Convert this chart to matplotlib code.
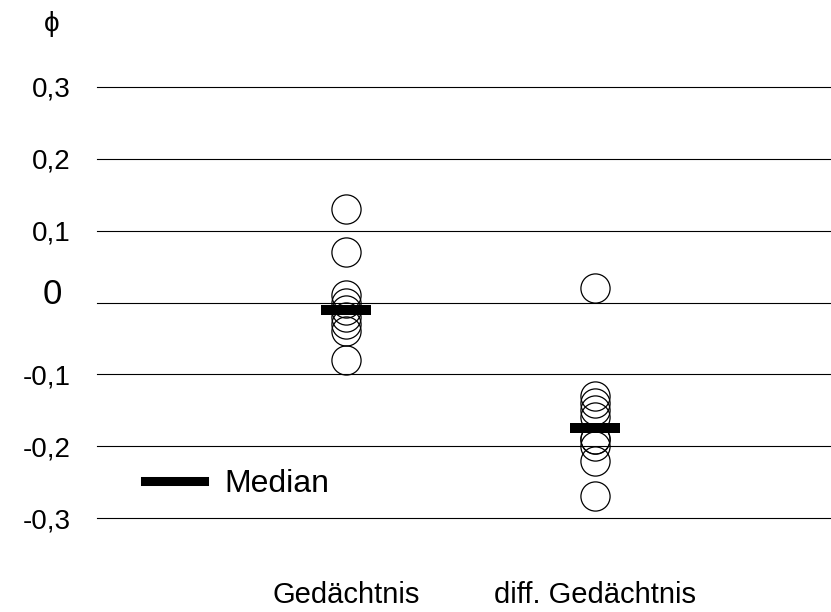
import numpy as np
import matplotlib
matplotlib.use("Agg")
import matplotlib.pyplot as plt
from matplotlib.lines import Line2D

plt.rcParams['font.family'] = ['Liberation Sans', 'DejaVu Sans']

# phi coefficients per condition
categories = ['Gedächtnis', 'diff. Gedächtnis']
phi_gedaechtnis = [0.13, 0.07, 0.01, 0.00, -0.01, -0.02, -0.03, -0.04, -0.08]
phi_diff = [0.02, -0.13, -0.14, -0.15, -0.16, -0.19, -0.19, -0.20, -0.22, -0.27]
groups = [phi_gedaechtnis, phi_diff]

ytick_values = [0.3, 0.2, 0.1, 0.0, -0.1, -0.2, -0.3]
ytick_labels = ['0,3', '0,2', '0,1', '0', '-0,1', '-0,2', '-0,3']

W, H = 831, 612
fig = plt.figure(figsize=(W / 100, H / 100), dpi=100)
ax = fig.add_axes([97 / W, 1 - 518 / H, 1 - 97 / W, (518 - 87) / H])
ax.set_xlim(0, 2.95)
ax.set_ylim(-0.3, 0.3)
for s in ax.spines.values():
    s.set_visible(False)
ax.set_xticks([])
ax.set_yticks([])

# horizontal reference lines
for v in ytick_values:
    ax.axhline(v, color='black', lw=0.8, clip_on=False, zorder=1)

# y labels drawn as text so the zero label can be larger
for v, lab in zip(ytick_values, ytick_labels):
    if lab == '0':
        ax.text(-0.048, v + 0.016, lab, transform=ax.get_yaxis_transform(),
                ha='right', va='center_baseline', fontsize=25)
    else:
        ax.text(-0.036, v, lab, transform=ax.get_yaxis_transform(),
                ha='right', va='center_baseline', fontsize=20)

# individual values and medians
for i, vals in enumerate(groups, start=1):
    ax.plot(np.full(len(vals), i), vals, 'o', ms=21, mfc='none',
            mec='black', mew=0.9, zorder=3, clip_on=False)
    med = np.median(vals)
    ax.hlines(med, i - 0.1, i + 0.1, colors='black', lw=7.2, zorder=4)

# category labels underneath
for i, cat in enumerate(categories, start=1):
    ax.text(i, -0.197, cat, transform=ax.get_xaxis_transform(),
            ha='center', va='baseline', fontsize=21)

fig.text(52 / W, 1 - 24 / H, 'ϕ', ha='center', va='center', fontsize=20)

handle = Line2D([], [], color='black', lw=6.5)
ax.legend([handle], ['Median'], loc='center left',
          bbox_to_anchor=(145 / W, 1 - 484 / H), bbox_transform=fig.transFigure,
          frameon=False, fontsize=23, handlelength=1.85, handletextpad=0.65,
          borderpad=0, borderaxespad=0)

fig.savefig('out.png', dpi=100)
